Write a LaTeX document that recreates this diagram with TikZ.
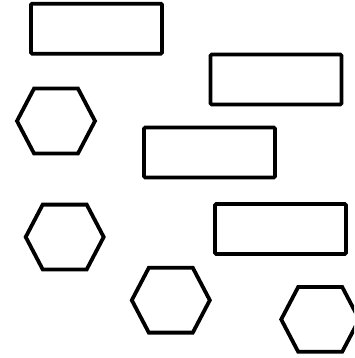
\documentclass[tikz,border=0pt]{standalone}
\usepackage{tikz}
\usetikzlibrary{positioning,calc}

\begin{document}
\begin{tikzpicture}[
    x=1pt, y=-1pt,
    box/.style={rectangle, draw=black, line width=3.8pt, fill=white,
                minimum width=131pt, minimum height=50pt, inner sep=0pt,
                rounded corners=1.2pt},
    hex/.style={draw=black, line width=3.8pt, line join=miter}
]
\clip (0,0) rectangle (354,358);
\useasboundingbox (0,0) rectangle (354,358);

\node[box] (r1) at (96.5,28.7) {};
\node[box] (r2) at (276,79.5) {};
\node[box] (r3) at (209.5,152.5) {};
\node[box] (r4) at (280.5,229) {};

\coordinate (h1) at (56,121);
\coordinate (h2) at (64.7,237);
\coordinate (h3) at (170.8,300.2);
\coordinate (h4) at (320.2,319.4);

\foreach \h in {h1,h2,h3,h4}
    \draw[hex] (\h) +(-39,0) -- +(-22,-32.4) -- +(22,-32.4) -- +(39,0)
        -- +(22,32.4) -- +(-22,32.4) -- cycle;
\end{tikzpicture}
\end{document}
